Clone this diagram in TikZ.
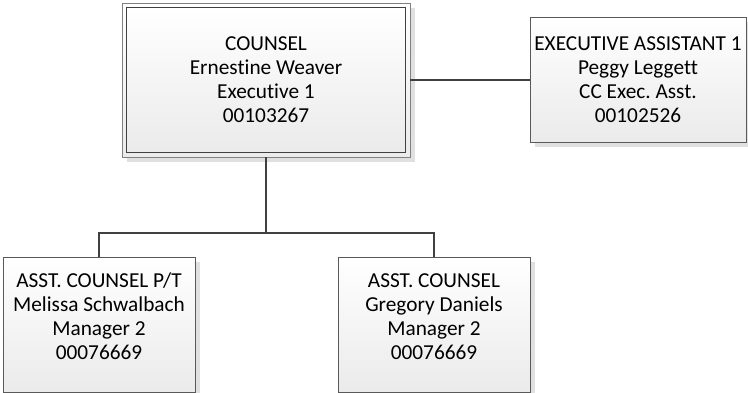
\documentclass[tikz,border=0pt]{standalone}
\usepackage{fontspec}
\setmainfont[Ligatures={NoCommon}]{Carlito}
\frenchspacing
\usetikzlibrary{shadows,calc}
\begin{document}
\begin{tikzpicture}[x=1pt,y=-1pt,
  box/.style={draw=black!65, line width=0.8pt, top color=white, bottom color=black!8,
    rectangle, inner sep=0pt, align=center, font=\fontsize{21.3}{24}\selectfont,
    general shadow={fill=black!12, shadow xshift=5pt, shadow yshift=-5pt}},
  innerbox/.style={draw=black!75, line width=0.8pt, top color=white, bottom color=black!8},
  txt/.style={align=center, font=\fontsize{21.3}{24}\selectfont, inner sep=0pt},
  link/.style={draw=black!75, line width=2pt}]
\useasboundingbox (0,0) rectangle (748,393);

\node[box, draw=black!50, minimum width=288pt, minimum height=154pt] (c) at (266,80) {};
\draw[innerbox] ($(c.north west)+(5,5)$) rectangle ($(c.south east)+(-5,-5)$);
\node[txt] (ct) at (c.center) {COUNSEL\\Ernestine Weaver\\Executive 1\\00103267};

\node[box, minimum width=216pt, minimum height=125pt] (e) at (638,79.5)
  {EXECUTIVE ASSISTANT 1\\Peggy Leggett\\CC Exec. Asst.\\00102526};

\node[box, minimum width=192pt, minimum height=135pt] (b1) at (99,324.5) {};
\node[txt] (t1) at ([yshift=8pt]b1.center) {ASST. COUNSEL P/T\\Melissa Schwalbach\\Manager 2\\00076669};

\node[box, minimum width=192pt, minimum height=135pt] (b2) at (434,324.5) {};
\node[txt] (t2) at ([yshift=8pt]b2.center) {ASST. COUNSEL\\Gregory Daniels\\Manager 2\\00076669};

\coordinate (j) at (266,233);
\draw[link] (c.south) -- (j);
\draw[link] (j) -| (b1.north);
\draw[link] (j) -| (b2.north);
\draw[link] (c.east) -- (c.east -| e.west);
\end{tikzpicture}
\end{document}
